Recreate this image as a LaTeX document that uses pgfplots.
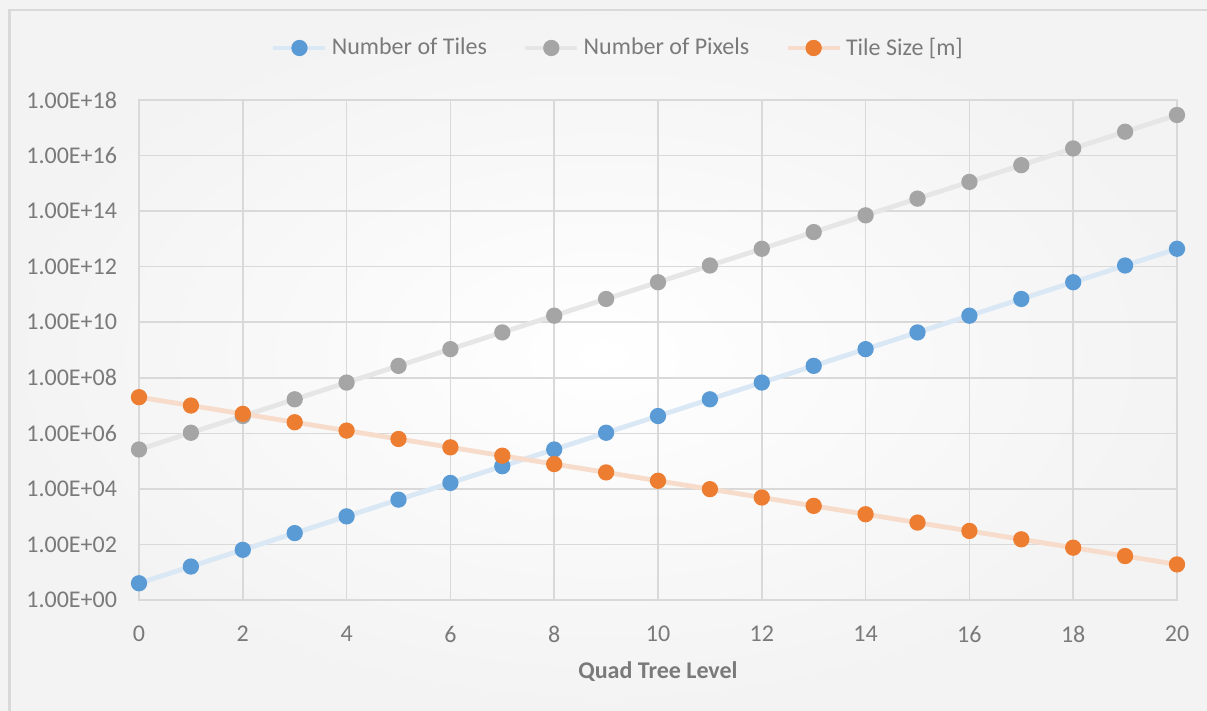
\documentclass[border=0pt]{standalone}
\usepackage{fontspec}
\setmainfont{Carlito}
\usepackage{pgfplots}
\pgfplotsset{compat=1.18}
\definecolor{tblue}{HTML}{5B9BD5}
\definecolor{tblueL}{HTML}{DAE7F4}
\definecolor{tgray}{HTML}{A5A5A5}
\definecolor{tgrayL}{HTML}{E6E6E6}
\definecolor{torange}{HTML}{ED7D31}
\definecolor{torangeL}{HTML}{F8DCCB}
\definecolor{gridc}{HTML}{D9D9D9}
\definecolor{labc}{HTML}{7A7A7A}
\definecolor{bgout}{HTML}{F3F3F3}
\definecolor{borderc}{HTML}{D9D9D9}
\begin{document}
\begin{tikzpicture}
\path[use as bounding box] (0pt,0pt) rectangle (603.5pt,355.5pt);
\shade[inner color=white, outer color=bgout] (0pt,0pt) rectangle (603.5pt,355.5pt);
\draw[borderc, line width=1.2pt] (4.75pt,-5pt) -- (4.75pt,350.5pt) -- (610pt,350.5pt);
\begin{axis}[
  at={(69.5pt,55.5pt)}, anchor=south west,
  scale only axis, width=519pt, height=250pt,
  ymode=log, xmin=0, xmax=20, ymin=1, ymax=1e18,
  xtick={0,2,...,20},
  ytick={1,1e2,1e4,1e6,1e8,1e10,1e12,1e14,1e16,1e18},
  yticklabels={1.00E+00,1.00E+02,1.00E+04,1.00E+06,1.00E+08,1.00E+10,1.00E+12,1.00E+14,1.00E+16,1.00E+18},
  /pgf/number format/assume math mode=true,
  grid=major, major grid style={gridc, line width=0.75pt},
  axis line style={gridc, line width=0.75pt},
  major tick length=0pt, tick style={draw=none},
  ticklabel style={font=\fontsize{12}{14}\selectfont, text=labc},
  yticklabel style={xshift=-7.5pt},
  xticklabel style={yshift=-9.5pt},
  xlabel={\textbf{Quad Tree Level}},
  xlabel style={at={(axis description cs:0.5,0)}, anchor=center, yshift=-36pt, font=\fontsize{12}{14}\selectfont, text=labc},
  legend style={at={(axis description cs:0.4624,1.104)}, anchor=center, draw=none, fill=none,
    font=\fontsize{12}{14}\selectfont, text=labc, legend columns=3,
    /tikz/every even column/.append style={column sep=16pt}},
  legend image code/.code={\draw[mark repeat=2,mark phase=2,#1] plot coordinates {(0pt,0pt) (13pt,0pt) (26pt,0pt)};},
  clip=false,
]
\addplot[draw=tblueL, line width=2.4pt, mark=*, mark size=2.85pt, mark options={draw=tblue, fill=tblue}] coordinates {
(0,4) (1,16) (2,64) (3,256) (4,1024) (5,4096) (6,16384) (7,65536) (8,262144) (9,1048576)
(10,4194304) (11,16777216) (12,67108864) (13,268435456) (14,1073741824) (15,4294967296)
(16,17179869184) (17,68719476736) (18,274877906944) (19,1099511627776) (20,4398046511104)};
\addlegendentry{Number of Tiles}
\addplot[draw=tgrayL, line width=2.4pt, mark=*, mark size=2.85pt, mark options={draw=tgray, fill=tgray}] coordinates {
(0,2.62144e5) (1,1.048576e6) (2,4.194304e6) (3,1.6777216e7) (4,6.7108864e7) (5,2.68435456e8)
(6,1.073741824e9) (7,4.294967296e9) (8,1.7179869184e10) (9,6.8719476736e10) (10,2.74877906944e11)
(11,1.099511627776e12) (12,4.398046511104e12) (13,1.7592186044416e13) (14,7.0368744177664e13)
(15,2.81474976710656e14) (16,1.125899906842624e15) (17,4.503599627370496e15)
(18,1.8014398509481984e16) (19,7.2057594037927936e16) (20,2.88230376151711744e17)};
\addlegendentry{Number of Pixels}
\addplot[draw=torangeL, line width=2.4pt, mark=*, mark size=2.85pt, mark options={draw=torange, fill=torange}] coordinates {
(0,2.0037508e7) (1,1.0018754e7) (2,5.009377e6) (3,2.5046885e6) (4,1.25234425e6) (5,6.2617213e5)
(6,3.1308606e5) (7,1.5654303e5) (8,7.8271516e4) (9,3.9135758e4) (10,1.9567879e4)
(11,9.7839395e3) (12,4.8919697e3) (13,2.4459849e3) (14,1.2229924e3) (15,6.1149621e2)
(16,3.0574811e2) (17,1.5287405e2) (18,7.6437027e1) (19,3.8218514e1) (20,1.9109257e1)};
\addlegendentry{Tile Size [m]}
\end{axis}
\end{tikzpicture}
\end{document}
